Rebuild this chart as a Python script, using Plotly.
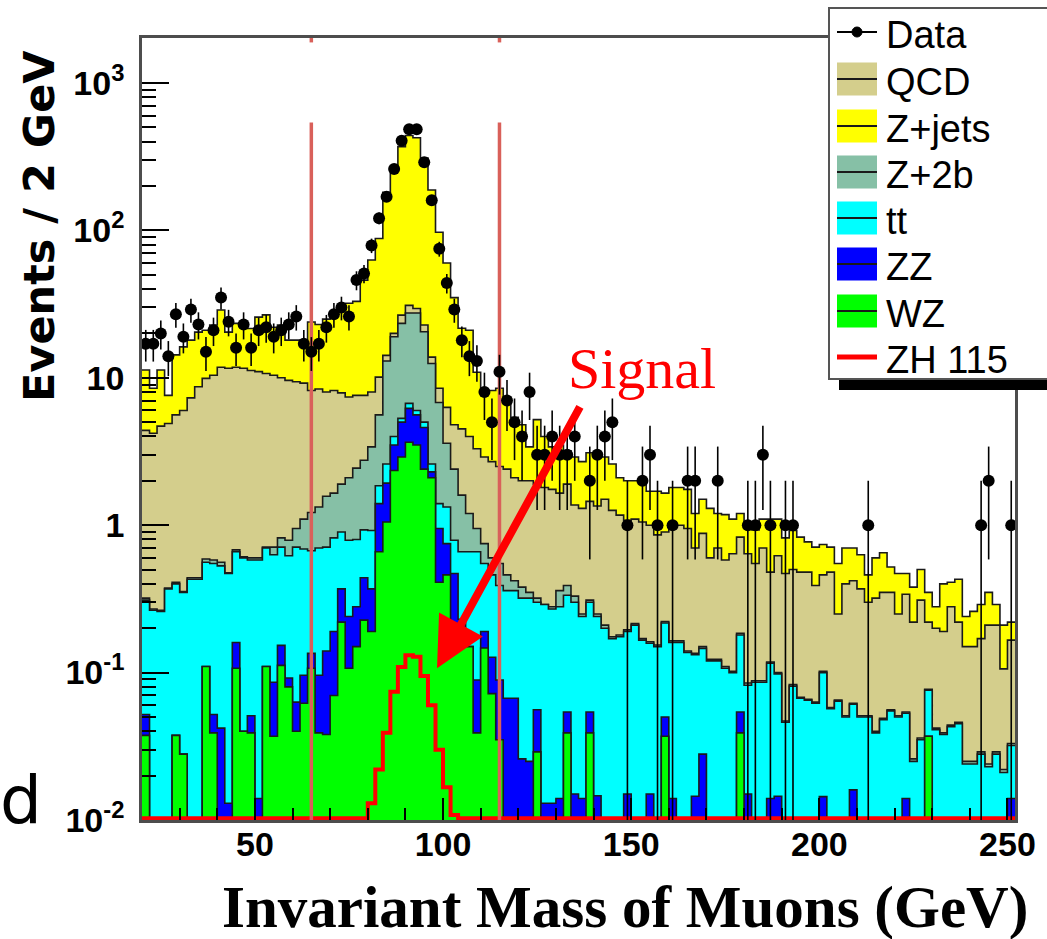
import numpy as np
import plotly.graph_objects as go

# ---------------- data ----------------
bin_low, bin_width, n_bins = 20.0, 2.0, 116

data_counts = [17,17,20,14,27,19,29,23,15,21,
               35,24,16,23,16,21,22,19,21,23,
               26,17,15,17,22,27,30,26,46,51,
               79,121,169,261,405,486,486,290,160,75,
               44,29,18,14,13,8,5,11,7,5,
               4,8,3,3,4,3,3,4,0,2,
               3,4,5,0,1,0,2,3,1,0,
               1,0,2,2,0,0,2,0,0,0,
               1,1,3,1,0,1,1,0,0,0,
               0,0,0,0,0,0,1,0,0,0,
               0,0,0,0,0,0,0,0,0,0,
               0,1,2,0,0,1]

# stacked totals as drawn (each level includes everything below it)
stack_zjets = [11.3,8.5,11.3,7.6,14.3,16.2,18.0,20.4,21.0,22.8,
               28.8,20.4,23.4,22.0,21.6,25.8,26.7,22.0,22.8,18.0,
               18.0,17.0,23.9,23.0,25.0,28.0,30.0,32.0,33.0,46.0,
               63,88,181,256,370,440,425,310,188,97,
               60,35,21.7,21.0,10.9,7.9,8.2,8.5,6.8,5.4,
               4.8,3.4,5.2,4.0,3.4,3.5,3.2,2.9,2.7,3.1,
               3.1,2.9,2.6,2.1,2.0,2.0,1.9,1.7,1.7,1.65,
               1.8,1.8,1.75,1.2,1.5,1.3,1.2,1.18,1.1,1.2,
               0.97,0.93,1.1,1.1,1.1,0.82,0.92,0.83,0.77,0.71,
               0.74,0.71,0.55,0.70,0.70,0.63,0.46,0.60,0.65,0.52,
               0.47,0.47,0.38,0.50,0.35,0.28,0.40,0.41,0.43,0.24,
               0.26,0.29,0.35,0.29,0.21,0.22]
stack_qcd = [4.4,4.2,4.7,4.9,5.6,6.0,7.3,8.7,9.9,10.4,
             11.8,11.6,11.8,11.6,11.2,11.0,10.7,10.4,10.0,9.6,
             9.4,9.2,8.2,8.4,8.0,8.2,7.9,7.4,7.6,7.6,
             8.0,10.1,14.2,20.0,26.6,31.0,29.5,22.8,13.8,8.5,
             6.3,4.8,4.5,4.0,3.3,2.9,2.7,2.5,2.4,2.1,
             2.0,2.0,1.9,1.8,1.75,1.65,1.9,1.37,1.3,1.45,
             1.35,1.5,1.26,1.17,1.08,1.1,1.05,1.0,0.86,0.9,
             0.95,1.0,0.95,0.70,0.88,0.60,0.70,0.58,0.64,0.83,
             0.64,0.55,0.70,0.48,0.62,0.47,0.50,0.48,0.48,0.39,
             0.46,0.48,0.25,0.40,0.42,0.37,0.30,0.32,0.35,0.35,
             0.25,0.34,0.22,0.31,0.22,0.20,0.19,0.28,0.22,0.15,
             0.15,0.17,0.21,0.21,0.106,0.166]
stack_z2b = [0.32,0.27,0.265,0.375,0.41,0.355,0.44,0.44,0.59,0.58,
             0.56,0.475,0.68,0.61,0.60,0.60,0.71,0.71,0.82,0.79,
             0.95,1.1,1.22,1.33,1.57,1.65,1.9,2.1,2.44,2.76,
             3.4,5.6,13.0,19.0,23.4,27.5,27.5,20.5,12.5,6.8,
             3.6,2.4,1.6,1.2,0.95,0.75,0.6,0.55,0.46,0.42,
             0.38,0.35,0.32,0.29,0.28,0.36,0.39,0.33,0.25,0.31,
             0.25,0.21,0.175,0.18,0.195,0.215,0.17,0.162,0.154,0.222,
             0.164,0.164,0.14,0.135,0.15,0.123,0.123,0.11,0.102,0.185,
             0.085,0.088,0.088,0.118,0.10,0.047,0.083,0.068,0.066,0.063,
             0.102,0.058,0.065,0.051,0.062,0.051,0.051,0.04,0.049,0.056,
             0.051,0.054,0.026,0.036,0.077,0.042,0.039,0.044,0.046,0.025,
             0.025,0.029,0.024,0.029,0.022,0.033]
stack_tt = [0.31,0.265,0.26,0.37,0.40,0.35,0.43,0.43,0.56,0.55,
            0.53,0.47,0.66,0.60,0.58,0.58,0.70,0.63,0.71,0.62,
            0.71,0.69,0.67,0.70,0.71,0.82,0.90,0.79,0.80,0.93,
            0.92,1.85,2.6,4.0,5.3,6.7,6.0,5.0,2.6,1.4,
            1.33,0.79,0.66,0.66,0.66,0.55,0.46,0.39,0.36,0.36,
            0.32,0.32,0.30,0.29,0.27,0.28,0.335,0.30,0.24,0.30,
            0.24,0.20,0.17,0.175,0.19,0.21,0.166,0.158,0.15,0.217,
            0.16,0.16,0.137,0.132,0.146,0.12,0.12,0.107,0.10,0.18,
            0.082,0.086,0.086,0.116,0.098,0.046,0.081,0.067,0.065,0.062,
            0.10,0.057,0.064,0.05,0.061,0.05,0.05,0.039,0.048,0.055,
            0.05,0.053,0.025,0.035,0.076,0.041,0.038,0.043,0.045,0.024,
            0.024,0.028,0.023,0.028,0.021,0.032]
stack_zz = [0.052,0,0,0,0.0375,0.028,0,0,0.11,0.052,
            0.042,0.013,0.16,0.04,0.051,0.014,0.11,0.086,0.153,0.092,
            0.063,0.096,0.135,0.096,0.14,0.19,0.37,0.24,0.28,0.44,
            0.37,1.4,1.93,3.5,5.0,6.2,5.6,4.6,2.3,0.95,
            0.75,0.47,0.23,0.15,0.089,0.19,0.127,0.089,0.067,0.067,
            0.026,0.025,0.056,0.013,0.013,0.014,0.054,0.015,0.014,0.054,
            0.0146,0,0,0,0.015,0,0,0.015,0,0.05,
            0.014,0,0,0.0145,0.028,0,0,0,0,0.054,
            0.015,0,0,0.014,0.0145,0,0,0,0,0,
            0.0144,0,0,0,0.016,0,0,0,0,0,
            0,0.014,0,0,0.037,0,0,0,0,0,
            0,0,0,0,0,0.014]
stack_wz = [0.0375,0,0,0,0.0375,0.028,0,0,0.11,0.039,
            0,0,0.107,0.04,0.039,0,0.11,0.037,0.112,0.08,
            0.04,0.062,0.107,0.039,0.038,0.07,0.22,0.107,0.15,0.227,
            0.19,0.66,1.05,2.35,2.9,3.65,3.5,2.4,2.1,0.41,
            0.46,0.15,0.15,0.15,0.039,0.147,0.072,0.035,0,0,
            0,0,0.029,0,0,0,0.039,0,0,0.039,
            0,0,0,0,0,0,0,0,0,0.037,
            0,0,0,0,0,0,0,0,0,0.039,
            0,0,0,0,0,0,0,0,0,0,
            0,0,0,0,0,0,0,0,0,0,
            0,0,0,0,0.037,0,0,0,0,0,
            0,0,0,0,0,0]
signal_zh115 = [0]*30 + [0.013,0.022,0.039,0.074,0.109,0.131,0.128,0.095,0.06,0.030,
                         0.0167,0.0108] + [0]*74

cut_low, cut_high, cut_line_top = 65, 115, 540

legend_labels = ["Data", "QCD", "Z+jets", "Z+2b", "tt", "ZZ", "WZ", "ZH 115"]
legend_colors = [None, "#d4ce8c", "#ffff00", "#86c0a6", "#00ffff", "#0000ff", "#00ff00", "#ff0000"]

x_ticks = [50, 100, 150, 200, 250]
x_minor = [30, 40, 60, 70, 80, 90, 110, 120, 130, 140, 160, 170, 180, 190, 210, 220, 230, 240]
y_ticks = [0.01, 0.1, 1, 10, 100, 1000]
y_ticktext = ["10<sup>-2</sup>", "10<sup>-1</sup>", "1", "10", "10<sup>2</sup>", "10<sup>3</sup>"]
y_minor = [m * 10.0 ** e for e in range(-2, 4) for m in range(2, 10) if m * 10.0 ** e < 2000]

# ---------------- figure ----------------
W, H = 1047, 939
ML, MR, MT, MB = 142, 32, 38, 119
PW, PH = W - ML - MR, H - MT - MB
Y_RANGE = [-2.0, 3.305]

edges = bin_low + bin_width * np.arange(n_bins + 1)
centers = edges[:-1] + bin_width / 2

def step_y(vals, floor):
    v = np.asarray(vals, dtype=float)
    v = np.where(v > 0, v, floor)
    return np.append(v, v[-1])

fig = go.Figure()

stack_levels = [(stack_zjets, "#ffff00"), (stack_qcd, "#d4ce8c"), (stack_z2b, "#86c0a6"),
                (stack_tt, "#00ffff"), (stack_zz, "#0000ff"), (stack_wz, "#00ff00")]
for vals, col in stack_levels:
    fig.add_trace(go.Scatter(x=edges, y=step_y(vals, 1e-5), mode="lines",
                             line=dict(shape="hv", color="#1a1a1a", width=1.6),
                             fill="tozeroy", fillcolor=col, hoverinfo="skip", showlegend=False))

# signal histogram (zero bins sit on the axis floor)
fig.add_trace(go.Scatter(x=edges, y=step_y(signal_zh115, 10 ** (Y_RANGE[0] + 0.012)), mode="lines",
                         line=dict(shape="hv", color="#ff0000", width=4),
                         hoverinfo="skip", showlegend=False))

# mass window lines
for xc in (cut_low, cut_high):
    fig.add_trace(go.Scatter(x=[xc, xc], y=[10 ** Y_RANGE[0], cut_line_top], mode="lines",
                             line=dict(color="#d9605a", width=3.5), hoverinfo="skip", showlegend=False))
    fig.add_trace(go.Scatter(x=[xc, xc], y=[10 ** Y_RANGE[1], 10 ** (Y_RANGE[1] - 0.03)], mode="lines",
                             line=dict(color="#d9605a", width=3.5), hoverinfo="skip", showlegend=False))

# data points
cnt = np.asarray(data_counts, dtype=float)
mask = cnt > 0
fig.add_trace(go.Scatter(x=centers[mask], y=cnt[mask], mode="markers",
                         marker=dict(size=12, color="black"),
                         error_y=dict(type="data", array=np.sqrt(cnt[mask]), color="black",
                                      thickness=1.6, width=0),
                         showlegend=False))

def px(xp):
    return (xp - ML) / PW

def py(yp):
    return (H - MB - yp) / PH

narrow = "Liberation Sans Narrow, Arial Narrow, Liberation Sans, Arial, sans-serif"

shapes = []
annotations = []
# legend box + shadow
shapes.append(dict(type="rect", xref="paper", yref="paper", x0=px(839), x1=px(1065), y0=py(390), y1=py(379),
                   fillcolor="black", line=dict(width=0), layer="above"))
shapes.append(dict(type="rect", xref="paper", yref="paper", x0=px(829), x1=px(1065), y0=py(379), y1=py(8),
                   fillcolor="white", line=dict(color="#555555", width=2), layer="above"))
row_y = [32, 79, 126, 172, 218, 264, 311, 357]
for lab, col, ry in zip(legend_labels, legend_colors, row_y):
    if lab == "Data":
        shapes.append(dict(type="line", xref="paper", yref="paper", x0=px(837), x1=px(877), y0=py(ry), y1=py(ry),
                           line=dict(color="black", width=2), layer="above"))
        shapes.append(dict(type="circle", xref="paper", yref="paper", x0=px(852), x1=px(862), y0=py(ry + 5), y1=py(ry - 5),
                           fillcolor="black", line=dict(color="black", width=1), layer="above"))
    elif lab == "ZH 115":
        shapes.append(dict(type="line", xref="paper", yref="paper", x0=px(837), x1=px(877), y0=py(ry), y1=py(ry),
                           line=dict(color=col, width=5), layer="above"))
    else:
        shapes.append(dict(type="rect", xref="paper", yref="paper", x0=px(837), x1=px(877), y0=py(ry + 16.5), y1=py(ry - 16.5),
                           fillcolor=col, line=dict(width=0), layer="above"))
        shapes.append(dict(type="line", xref="paper", yref="paper", x0=px(837), x1=px(877), y0=py(ry), y1=py(ry),
                           line=dict(color="#1a1a1a", width=2), layer="above"))
    annotations.append(dict(text=lab, xref="paper", yref="paper", x=px(884), y=py(ry + 3),
                            xanchor="left", yanchor="middle", showarrow=False,
                            font=dict(family=narrow, size=38, color="black")))

# axis titles and notes
annotations.append(dict(text="Events / 2 GeV", xref="paper", yref="paper", x=px(39), y=py(226),
                        textangle=-90, xanchor="center", yanchor="middle", showarrow=False,
                        font=dict(family="DejaVu Sans", size=43, color="black", weight="bold")))
annotations.append(dict(text="Invariant Mass of Muons (GeV)", xref="paper", yref="paper", x=px(625), y=py(907),
                        xanchor="center", yanchor="middle", showarrow=False,
                        font=dict(family="Liberation Serif, Times New Roman, serif", size=59, color="black", weight="bold")))
annotations.append(dict(text="Signal", xref="paper", yref="paper", x=px(642), y=py(368),
                        xanchor="center", yanchor="middle", showarrow=False,
                        font=dict(family="Liberation Serif, Times New Roman, serif", size=58, color="#ff0000")))
annotations.append(dict(text="d", xref="paper", yref="paper", x=px(-2), y=py(800),
                        xanchor="left", yanchor="middle", showarrow=False,
                        font=dict(family="DejaVu Sans", size=66, color="black")))
# signal arrow (tip and tail in data coordinates)
annotations.append(dict(text="", x=98.4, y=np.log10(0.107), xref="x", yref="y",
                        ax=136.6, ay=np.log10(6.5), axref="x", ayref="y",
                        showarrow=True, arrowhead=2, arrowsize=1.25, arrowwidth=8, arrowcolor="#ff0000",
                        standoff=0))

fig.update_layout(
    width=W, height=H, margin=dict(l=ML, r=MR, t=MT, b=MB),
    paper_bgcolor="white", plot_bgcolor="white",
    shapes=shapes, annotations=annotations, showlegend=False,
    xaxis=dict(range=[bin_low, bin_low + n_bins * bin_width], showgrid=False, zeroline=False,
               showline=True, mirror=True, linecolor="#4d4d4d", linewidth=2.5,
               ticks="inside", ticklen=22, tickwidth=2, tickcolor="black",
               tickmode="array", tickvals=x_ticks, ticktext=[str(t) for t in x_ticks],
               tickfont=dict(family=narrow, size=34, color="black", weight="bold"),
               minor=dict(tickmode="array", tickvals=x_minor, ticks="inside", ticklen=12,
                          tickwidth=2, tickcolor="black", showgrid=False),
               ticklabelstandoff=-8),
    yaxis=dict(type="log", range=Y_RANGE, showgrid=False, zeroline=False,
               showline=True, mirror=True, linecolor="#4d4d4d", linewidth=2.5,
               ticks="inside", ticklen=27, tickwidth=2, tickcolor="black",
               tickmode="array", tickvals=y_ticks, ticktext=y_ticktext,
               tickfont=dict(family=narrow, size=34, color="black", weight="bold"),
               minor=dict(tickmode="array", tickvals=y_minor, ticks="inside", ticklen=14,
                          tickwidth=2, tickcolor="black", showgrid=False),
               ticklabelstandoff=8),
)

fig.write_html("out.html")
